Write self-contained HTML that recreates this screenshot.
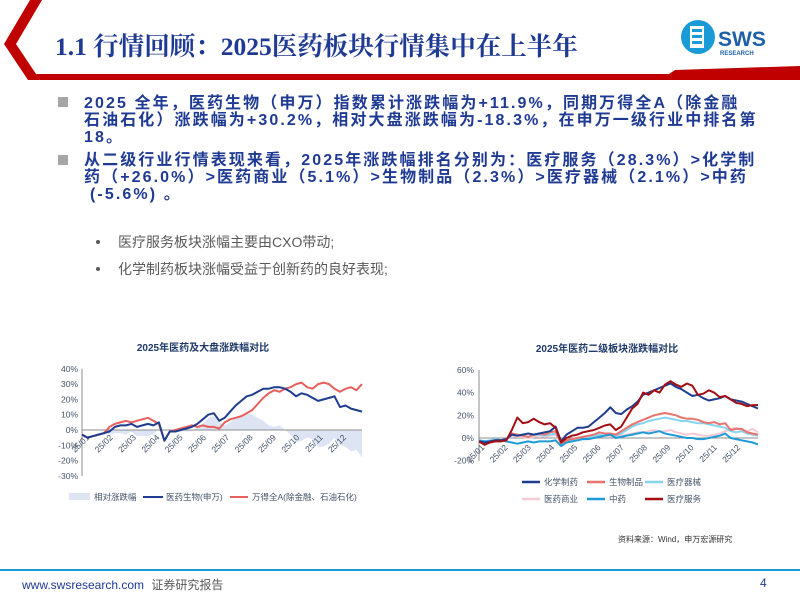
<!DOCTYPE html>
<html><head><meta charset="utf-8">
<style>
body{margin:0;background:#fff;}
#page{position:relative;width:800px;height:600px;overflow:hidden;background:#fff;font-family:"Liberation Sans","Noto Sans CJK SC",sans-serif;}
.abs{position:absolute;white-space:nowrap;}
.b1{color:#1f3a93;font-weight:bold;font-size:16px;letter-spacing:2.1px;left:84px;line-height:17px;}
.sq{position:absolute;left:58px;width:10px;height:10px;background:#a6a6a6;}
.sub{color:#595959;font-size:14px;left:118px;}
.dot{position:absolute;left:96px;width:4px;height:4px;border-radius:2px;background:#595959;}
svg text{font-family:"Liberation Sans","Noto Sans CJK SC",sans-serif;}
</style></head>
<body>
<div id="page">
<svg class="abs" style="left:0;top:0" width="800" height="90">
  <polygon points="30,0 42,0 16,44 40,80 28,80 4,44" fill="#c00000"/>
  <polygon points="36,74 800,74 800,80 40,80" fill="#c00000"/>
  <polygon points="675,70 800,66 800,80 660,80" fill="#c00000"/>
</svg>
<div class="abs" style="left:55px;top:27px;font-size:25.5px;color:#1f3a93;font-family:'Liberation Serif','Noto Serif CJK SC',serif;font-weight:bold;">1.1 行情回顾：2025医药板块行情集中在上半年</div>
<svg class="abs" style="left:680px;top:18px" width="110" height="45">
  <circle cx="18" cy="19" r="17" fill="#1a9ad6"/>
  <rect x="10" y="8" width="14" height="22" fill="#fff"/>
  <rect x="12" y="11" width="10" height="3" fill="#1a9ad6"/><rect x="12" y="17" width="10" height="3" fill="#1a9ad6"/><rect x="12" y="23" width="10" height="3" fill="#1a9ad6"/>
  <text x="38" y="28" font-size="21" font-weight="bold" fill="#1f5fa8">SWS</text>
  <text x="40" y="37" font-size="6" font-weight="bold" fill="#1f5fa8">RESEARCH</text>
</svg>

<div class="sq" style="top:97px"></div>
<div class="abs b1" style="top:95px">2025 全年，医药生物（申万）指数累计涨跌幅为+11.9%，同期万得全A（除金融</div>
<div class="abs b1" style="top:112px">石油石化）涨跌幅为+30.2%，相对大盘涨跌幅为-18.3%，在申万一级行业中排名第</div>
<div class="abs b1" style="top:129px">18。</div>
<div class="sq" style="top:155px"></div>
<div class="abs b1" style="top:152px">从二级行业行情表现来看，2025年涨跌幅排名分别为：医疗服务（28.3%）&gt;化学制</div>
<div class="abs b1" style="top:169px">药（+26.0%）&gt;医药商业（5.1%）&gt;生物制品（2.3%）&gt;医疗器械（2.1%）&gt;中药</div>
<div class="abs b1" style="top:186px;left:90px">(-5.6%) 。</div>
<div class="dot" style="top:240px"></div>
<div class="abs sub" style="top:232px">医疗服务板块涨幅主要由CXO带动;</div>
<div class="dot" style="top:267px"></div>
<div class="abs sub" style="top:259px">化学制药板块涨幅受益于创新药的良好表现;</div>

<svg id="c1" class="abs" style="left:0;top:0" width="800" height="600"></svg>

<div class="abs" style="left:618px;top:534px;font-size:8px;color:#333">资料来源：Wind，申万宏源研究</div>
<div class="abs" style="left:0;top:569px;width:800px;height:2px;background:#1a9ad6"></div>
<div class="abs" style="left:22px;top:576px;font-size:12px;color:#1f3a93">www.swsresearch.com <span style="color:#595959;margin-left:4px">证券研究报告</span></div>
<div class="abs" style="left:760px;top:576px;font-size:12px;color:#1f3a93">4</div>
</div>
<script>
const months=["25/01","25/02","25/03","25/04","25/05","25/06","25/07","25/08","25/09","25/10","25/11","25/12"];
const leftTicks=[40,30,20,10,0,-10,-20,-30];
const rightTicks=[60,40,20,0,-20];
const medBio=[-3,-5,-4,-3,-2,-1,2,3,3,4,2,3,4,3,5,-7,-1,-1,0,1,2,4,7,10,11,6,8,12,16,19,22,23,25,27,27,28,28,27,25,22,24,23,21,19,20,21,22,15,16,14,13,12];
const windA=[-3,-5,-4,-3,-2,2,4,5,6,5,6,7,8,6,4,-7,-1,0,1,2,3,2,3,2,2,1,5,7,8,9,11,13,17,21,24,26,25,27,28,30,31,28,27,30,31,30,27,25,27,28,26,30];
const chem=[-3,-4,-3,-2,-2,-1,3,2,3,4,3,4,5,6,10,-3,3,6,9,9,10,14,18,22,27,22,21,25,28,32,38,40,42,44,46,48,45,43,40,37,38,35,33,34,35,37,34,33,32,30,28,26];
const bioProd=[-3,-4,-3,-2,-2,-1,4,3,2,1,3,4,3,5,6,-5,-2,-1,0,1,2,3,5,4,4,3,6,9,12,14,16,18,20,21,22,21,20,18,17,17,16,14,13,14,12,13,7,8,8,5,4,3];
const device=[-2,-3,-2,-1,-2,-1,4,3,2,1,3,3,2,3,4,-4,-2,-1,0,1,1,2,3,2,3,2,4,7,10,12,13,15,16,17,18,17,16,15,15,14,13,13,12,11,10,9,6,5,6,4,3,2];
const commerce=[-2,-3,-2,-1,-2,-1,2,1,1,0,1,2,1,2,3,-4,-2,-1,0,1,1,1,2,2,2,1,2,3,4,5,5,6,7,6,6,7,5,4,3,4,3,2,2,3,4,6,8,9,7,6,8,5];
const tcm=[-2,-3,-3,-2,-2,-3,-4,-5,-4,-3,-4,-3,-3,-3,-2,-7,-4,-3,-2,-1,-1,0,1,2,3,0,1,2,3,4,5,4,5,6,4,3,2,1,0,0,-1,-1,0,1,2,4,0,-1,-2,-3,-4,-5.6];
const medService=[-3,-6,-4,-3,-3,-2,7,18,13,14,17,14,12,13,9,-4,0,2,3,5,6,7,9,11,12,7,10,18,26,30,40,38,42,40,47,50,47,45,48,46,38,39,42,40,36,37,34,31,30,28,29,29];

const svg=document.getElementById('c1');
const NS='http://www.w3.org/2000/svg';
function mk(tag,attrs,parent){const e=document.createElementNS(NS,tag);for(const k in attrs)e.setAttribute(k,attrs[k]);(parent||svg).appendChild(e);return e;}
function txt(x,y,s,attrs){const t=mk('text',Object.assign({x:x,y:y},attrs));t.textContent=s;return t;}

const L={x0:82,x1:362,y0:430,k:1.53};
const lx=i=>L.x0+i*(L.x1-L.x0)/(medBio.length-1);
const ly=v=>L.y0-v*L.k;
let t=txt(203,351,'2025年医药及大盘涨跌幅对比',{'font-size':10,'font-weight':'bold',fill:'#1f3a68','text-anchor':'middle'});


let d='M'+lx(0)+','+ly(0);
medBio.forEach((v,i)=>{d+=' L'+lx(i).toFixed(1)+','+ly(v-windA[i]).toFixed(1);});
d+=' L'+lx(medBio.length-1)+','+ly(0)+' Z';
let a=mk('path',{d:d,fill:'#dde5f4'});


leftTicks.forEach(v=>{
  const e=txt(78,ly(v)+3,v+'%',{'font-size':8.5,fill:'#44546a','text-anchor':'end'});
  
  
});
mk('line',{x1:L.x0,y1:ly(40),x2:L.x0,y2:ly(-30),stroke:'#8c8c8c','stroke-width':1});
mk('line',{x1:L.x0,y1:ly(0),x2:L.x1,y2:ly(0),stroke:'#8c8c8c','stroke-width':1});
months.forEach((m,i)=>{
  const x=L.x0+i*(L.x1-L.x0)/12+8, y=L.y0+8;
  const e=txt(x,y,m,{'font-size':8.5,fill:'#44546a','text-anchor':'end',transform:'rotate(-45 '+x+' '+y+')'});
  
  
});
function line(arr,xf,yf,color,w,name){
  const p=mk('polyline',{points:arr.map((v,i)=>xf(i).toFixed(1)+','+yf(v).toFixed(1)).join(' '),fill:'none',stroke:color,'stroke-width':w,'stroke-linejoin':'round'});
  
  
}
line(windA,lx,ly,'#e8605c',2,'wind-a-line');
line(medBio,lx,ly,'#1f3d8f',2,'med-bio-line');
mk('rect',{x:69,y:493,width:21,height:7,fill:'#dde5f4'});
txt(94,500,'相对涨跌幅',{'font-size':8.5,fill:'#44546a'});
mk('line',{x1:143,y1:497,x2:163,y2:497,stroke:'#1f3d8f','stroke-width':2});
txt(166,500,'医药生物(申万)',{'font-size':8.5,fill:'#44546a'});
mk('line',{x1:230,y1:497,x2:248,y2:497,stroke:'#e8605c','stroke-width':2});
txt(252,500,'万得全A(除金融、石油石化)',{'font-size':8.5,fill:'#44546a'});

const R={x0:479,x1:758,y0:438,k:1.136};
const rx=i=>R.x0+i*(R.x1-R.x0)/(chem.length-1);
const ry=v=>R.y0-v*R.k;
t=txt(607,352,'2025年医药二级板块涨跌幅对比',{'font-size':10,'font-weight':'bold',fill:'#1f3a68','text-anchor':'middle'});


rightTicks.forEach(v=>{
  const e=txt(474,ry(v)+3,v+'%',{'font-size':8.5,fill:'#44546a','text-anchor':'end'});
  
  
});
mk('line',{x1:R.x0,y1:ry(60),x2:R.x0,y2:ry(-20),stroke:'#8c8c8c','stroke-width':1});
mk('line',{x1:R.x0,y1:ry(0),x2:R.x1,y2:ry(0),stroke:'#8c8c8c','stroke-width':1});
months.forEach((m,i)=>{
  const x=R.x0+i*(R.x1-R.x0)/12+6, y=R.y0+10;
  const e=txt(x,y,m,{'font-size':8.5,fill:'#44546a','text-anchor':'end',transform:'rotate(-45 '+x+' '+y+')'});
  
  
});
line(commerce,rx,ry,'#f6c9d3',2,'commerce-line');
line(device,rx,ry,'#86d4f0',2,'device-line');
line(bioProd,rx,ry,'#e8736e',2,'bio-product-line');
line(tcm,rx,ry,'#1e9bd7',2,'tcm-line');
line(chem,rx,ry,'#1f3d8f',2,'chem-pharma-line');
line(medService,rx,ry,'#a50d12',2,'med-service-line');
const leg=[['化学制药','#1f3d8f',522,482],['生物制品','#e8736e',587,482],['医疗器械','#86d4f0',645,482],['医药商业','#f6c9d3',522,499],['中药','#1e9bd7',587,499],['医疗服务','#a50d12',645,499]];
leg.forEach(l=>{
  mk('line',{x1:l[2],y1:l[3],x2:l[2]+18,y2:l[3],stroke:l[1],'stroke-width':2.5});
  const e=txt(l[2]+22,l[3]+3,l[0],{'font-size':8.5,fill:'#44546a'});
  
  
});
</script>
</body></html>
